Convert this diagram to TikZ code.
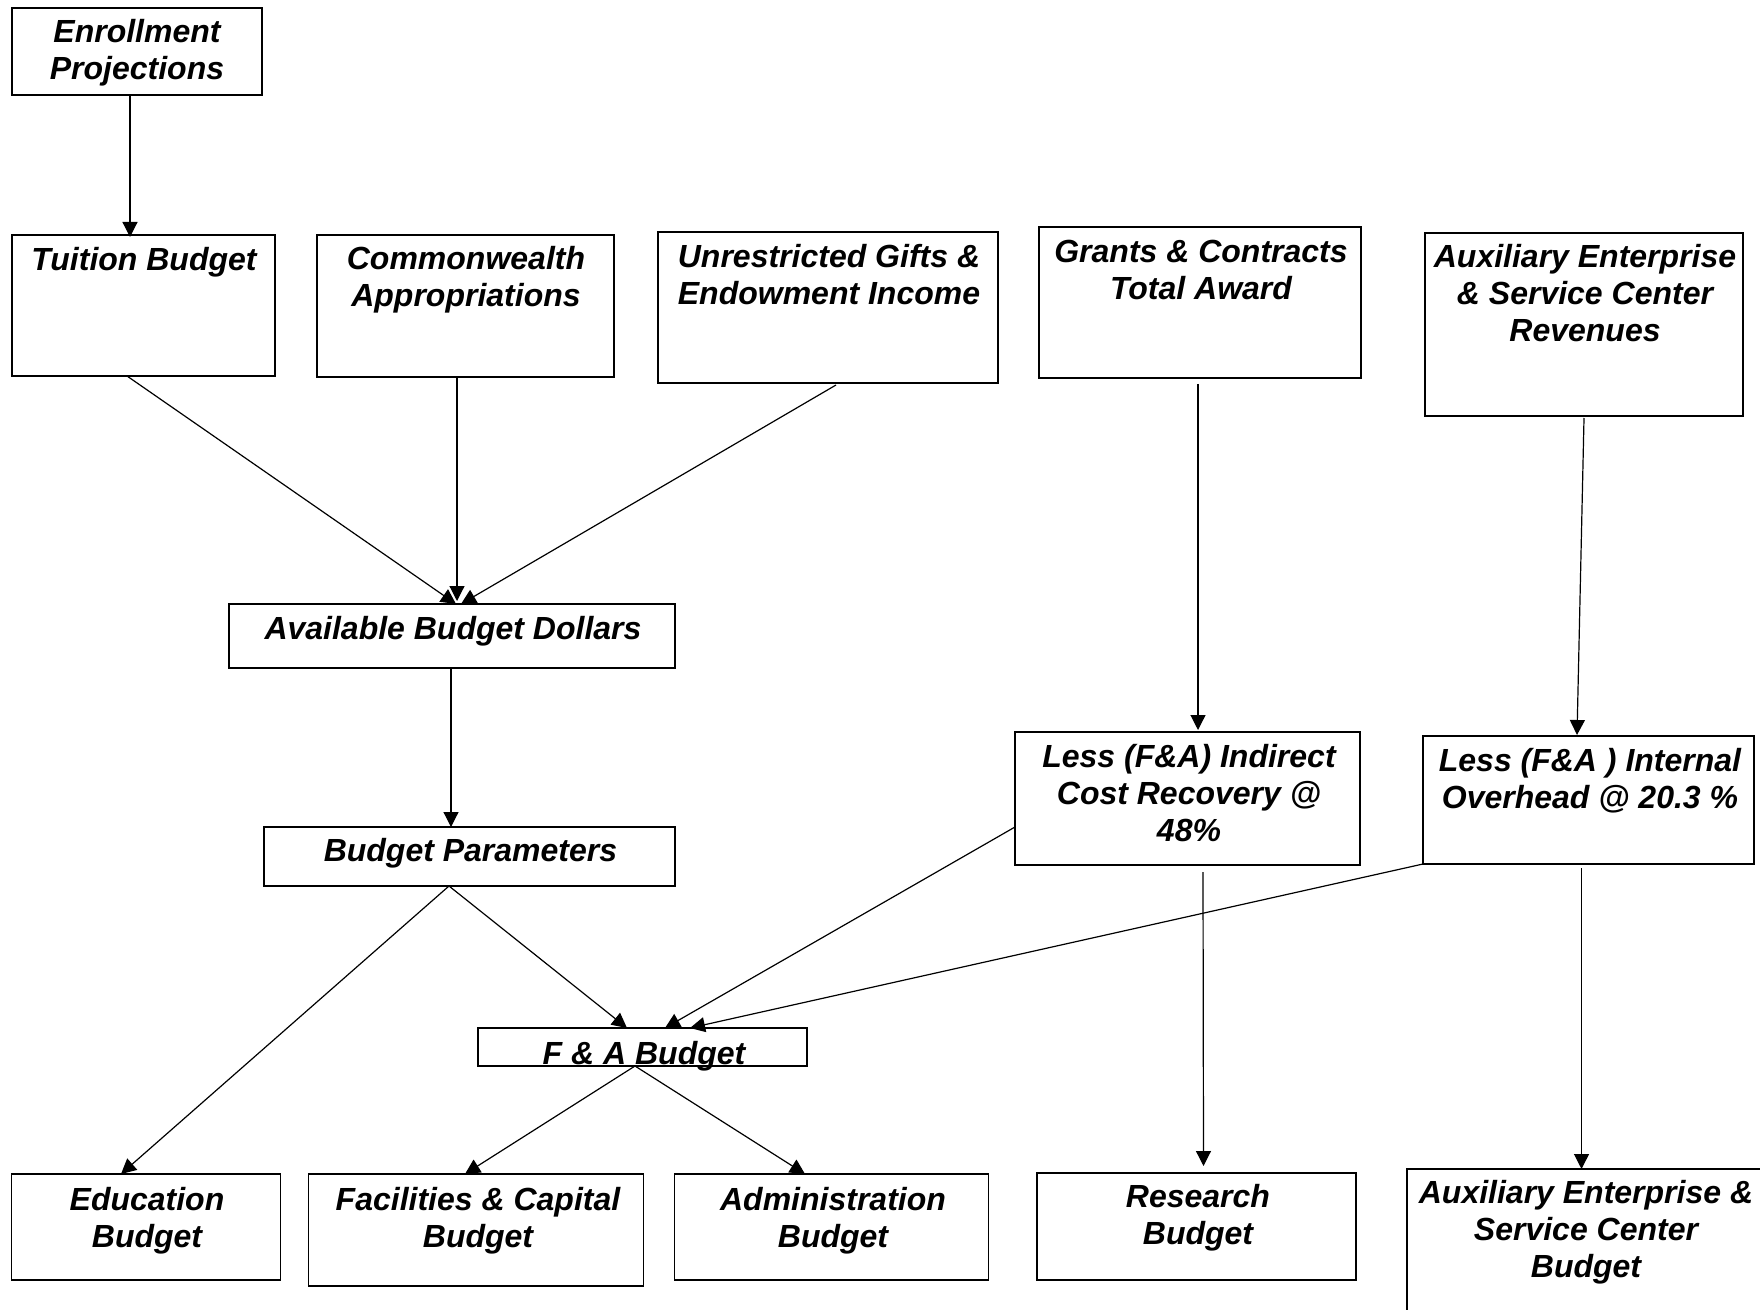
\documentclass[tikz,border=0pt]{standalone}
\usepackage{fontspec}
\setmainfont{Liberation Sans}
\usetikzlibrary{arrows.meta,calc}
\begin{document}
\begin{tikzpicture}[x=0.5pt,y=-0.5pt,
  box/.style={draw, line width=0.8pt, inner sep=0pt, outer sep=0pt},
  txt/.style={anchor=north, inner sep=0pt, align=center, font=\fontsize{16}{18.5}\selectfont\bfseries\itshape},
  arr/.style={line width=0.6pt, -{Triangle[length=7.5pt,width=7.5pt]}}]
\useasboundingbox (0,0) rectangle (1760,1310);
\clip (0,0) rectangle (1760,1310);

% boxes
\node[box, minimum width=125pt, minimum height=43.5pt] (enroll) at (137,51.5) {};
\node[box, minimum width=131.5pt, minimum height=70.5pt] (tuition) at (143.5,305.5) {};
\node[box, minimum width=148.5pt, minimum height=71pt] (common) at (465.5,306) {};
\node[box, minimum width=170pt, minimum height=75.5pt] (unrestr) at (828,307.5) {};
\node[box, minimum width=161pt, minimum height=75.5pt] (grants) at (1200,302.5) {};
\node[box, minimum width=159pt, minimum height=91.5pt] (auxrev) at (1584,324.5) {};
\node[box, minimum width=223pt, minimum height=32pt] (abd) at (452,636) {};
\node[box, minimum width=205.5pt, minimum height=29.5pt] (bp) at (469.5,856.5) {};
\node[box, minimum width=172.5pt, minimum height=66.5pt] (lessind) at (1187.5,798.5) {};
\node[box, minimum width=165.5pt, minimum height=64pt] (lessint) at (1588.5,800) {};
\node[box, minimum width=164.5pt, minimum height=19pt] (fa) at (642.5,1047) {};
\node[box, minimum width=134.5pt, minimum height=53pt] (edu) at (146,1227) {};
\node[box, minimum width=167.5pt, minimum height=56pt] (fac) at (476,1230) {};
\node[box, minimum width=157pt, minimum height=53pt] (admin) at (831.5,1227) {};
\node[box, minimum width=159.5pt, minimum height=53.5pt] (research) at (1196.5,1226.5) {};
\node[box, minimum width=196.5pt, minimum height=95.5pt] (auxbud) at (1603.5,1264.5) {};

% texts
\node[txt] (t-enroll) at (137,19) {Enrollment\\Projections};
\node[txt] (t-tuition) at (144,247) {Tuition Budget};
\node[txt] (t-common) at (466,246) {Commonwealth\\Appropriations};
\node[txt] (t-unrestr) at (829,244) {Unrestricted Gifts \&\\Endowment Income};
\node[txt] (t-grants) at (1201,240) {Grants \& Contracts\\Total Award};
\node[txt] (t-auxrev) at (1585,244) {Auxiliary Enterprise\\\& Service Center\\Revenues};
\node[txt] (t-abd) at (453,616) {Available Budget Dollars};
\node[txt] (t-bp) at (470.5,838) {Budget Parameters};
\node[txt] (t-lessind) at (1189,744) {Less (F\&A) Indirect\\Cost Recovery @\\48\%};
\node[txt] (t-lessint) at (1590,748) {Less (F\&A ) Internal\\Overhead @ 20.3 \%};
\node[txt] (t-fa) at (644,1041) {F \& A Budget};
\node[txt] (t-edu) at (147,1187) {Education\\Budget};
\node[txt] (t-fac) at (478,1187) {Facilities \& Capital\\Budget};
\node[txt] (t-admin) at (833,1187) {Administration\\Budget};
\node[txt] (t-research) at (1198,1184) {Research\\Budget};
\node[txt] (t-auxbud) at (1586,1180) {Auxiliary Enterprise \&\\Service Center\\Budget};

% connectors
\draw[arr] ($(enroll.south)+(-7,0)$) -- ($(tuition.north)+(-13.5,2)$);
\draw[arr] ($(tuition.south)+(-16.5,0)$) -- ($(abd.north)+(4,0)$);
\draw[arr] ($(common.south)+(-8.5,0)$) -- ($(abd.north)+(5,-3)$);
\draw[arr] ($(unrestr.south)+(8,2)$) -- ($(abd.north)+(9,0)$);
\draw[arr] ($(abd.south)+(-1,0)$) -- ($(bp.north)+(-18.5,0)$);
\draw[arr] ($(grants.south)+(-2,6)$) -- ($(lessind.north)+(10.5,-2)$);
\draw[arr] ($(auxrev.south)+(0,2)$) -- ($(lessint.north)+(-11.5,-1)$);
\draw[arr] ($(bp.south)+(-20.5,0)$) -- ($(edu.north)+(-25,0)$);
\draw[arr] ($(bp.south)+(-20.5,0)$) -- ($(fa.north)+(-15.5,0)$);
\draw[arr] ($(lessind.west)+(0,28.5)$) -- ($(fa.north)+(22.5,0)$);
\draw[arr] (lessint.south west) -- ($(fa.north)+(47.5,0)$);
\draw[arr] ($(fa.south)+(-7.5,0)$) -- ($(fac.north)+(-11,0)$);
\draw[arr] ($(fa.south)+(-7.5,0)$) -- ($(admin.north)+(-26.5,0)$);
\draw[arr] ($(lessind.south)+(15.5,7)$) -- ($(research.north)+(7,-7)$);
\draw[arr] ($(lessint.south)+(-7,4)$) -- ($(auxbud.north)+(-22,0)$);
\end{tikzpicture}
\end{document}
